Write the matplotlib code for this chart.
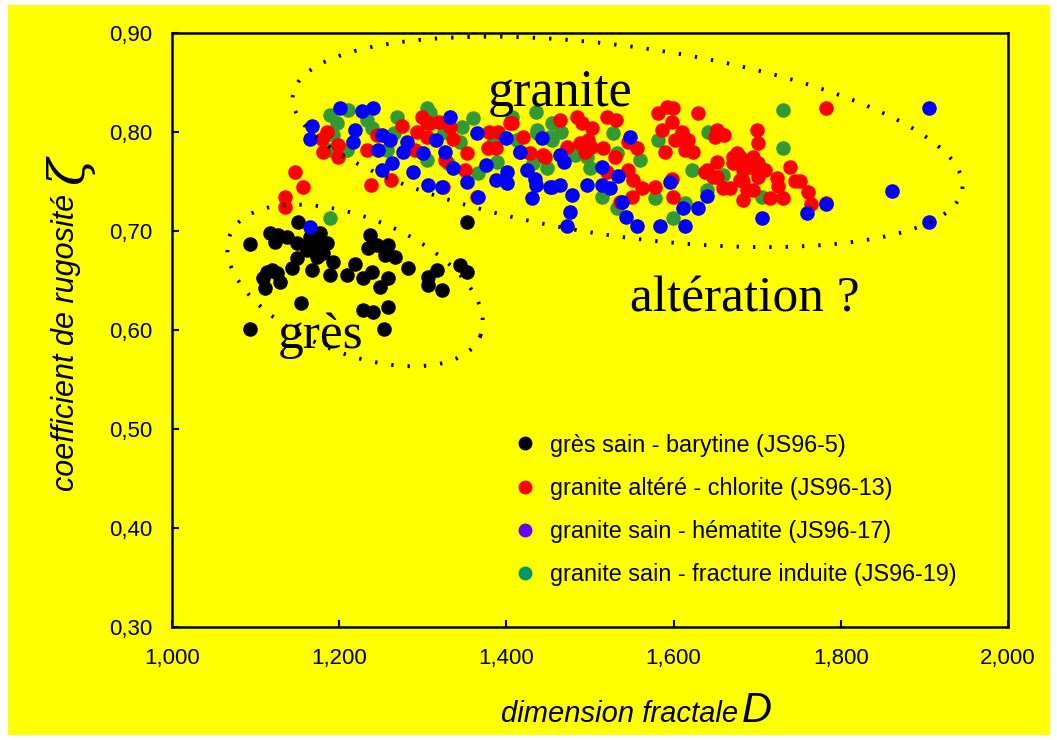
# nuage de points : coefficient de rugosité en fonction de la dimension fractale
import numpy as np
import matplotlib.pyplot as plt
from matplotlib.lines import Line2D
from matplotlib.patches import Rectangle

# --- données ---
gres_x = [1.093, 1.117, 1.127, 1.138, 1.123, 1.151, 1.150, 1.165, 1.177, 1.169, 1.185, 1.181, 1.193,
          1.150, 1.144, 1.167, 1.161, 1.173, 1.114, 1.126, 1.109, 1.129, 1.111, 1.120, 1.189, 1.209,
          1.219, 1.237, 1.234, 1.245, 1.258, 1.255, 1.267, 1.239, 1.229, 1.258, 1.249, 1.282, 1.306,
          1.317, 1.306, 1.323, 1.344, 1.353, 1.353, 1.154, 1.229, 1.240, 1.258, 1.093, 1.254, 1.169,
          1.160, 1.178]
gres_y = [0.687, 0.698, 0.696, 0.694, 0.689, 0.709, 0.688, 0.694, 0.698, 0.684, 0.688, 0.678, 0.669,
          0.673, 0.663, 0.661, 0.681, 0.674, 0.659, 0.658, 0.653, 0.648, 0.642, 0.661, 0.656, 0.656,
          0.667, 0.696, 0.683, 0.686, 0.686, 0.676, 0.674, 0.659, 0.653, 0.653, 0.643, 0.663, 0.654,
          0.661, 0.645, 0.640, 0.666, 0.659, 0.709, 0.627, 0.620, 0.618, 0.623, 0.601, 0.601, 0.691,
          0.685, 0.690]

altere_x = [1.185, 1.179, 1.199, 1.181, 1.199, 1.233, 1.245, 1.275, 1.299, 1.293, 1.305, 1.291, 1.147,
            1.157, 1.135, 1.135, 1.238, 1.262, 1.309, 1.319, 1.333, 1.305, 1.336, 1.327, 1.353, 1.350,
            1.378, 1.388, 1.379, 1.390, 1.404, 1.420, 1.416, 1.444, 1.365, 1.464, 1.472, 1.485, 1.490,
            1.502, 1.488, 1.501, 1.515, 1.520, 1.531, 1.520, 1.324, 1.407, 1.428, 1.446, 1.498, 1.494,
            1.530, 1.545, 1.556, 1.545, 1.551, 1.562, 1.550, 1.536, 1.578, 1.599, 1.598, 1.581, 1.592,
            1.599, 1.598, 1.629, 1.586, 1.610, 1.602, 1.617, 1.614, 1.623, 1.590, 1.652, 1.650, 1.640,
            1.652, 1.652, 1.659, 1.671, 1.680, 1.685, 1.680, 1.688, 1.700, 1.701, 1.660, 1.676, 1.695,
            1.701, 1.671, 1.683, 1.692, 1.709, 1.701, 1.683, 1.724, 1.725, 1.739, 1.745, 1.695, 1.715,
            1.731, 1.683, 1.667, 1.647, 1.638, 1.782, 1.761, 1.764, 1.782, 1.751]
altere_y = [0.800, 0.793, 0.787, 0.780, 0.775, 0.782, 0.797, 0.806, 0.815, 0.800, 0.809, 0.782, 0.760,
            0.744, 0.734, 0.724, 0.746, 0.752, 0.809, 0.810, 0.805, 0.795, 0.793, 0.772, 0.779, 0.762,
            0.784, 0.784, 0.800, 0.800, 0.809, 0.795, 0.780, 0.777, 0.734, 0.812, 0.785, 0.815, 0.809,
            0.804, 0.789, 0.785, 0.784, 0.815, 0.812, 0.760, 0.744, 0.809, 0.779, 0.775, 0.792, 0.780,
            0.775, 0.790, 0.784, 0.762, 0.752, 0.743, 0.734, 0.729, 0.744, 0.734, 0.753, 0.819, 0.825,
            0.824, 0.810, 0.819, 0.802, 0.800, 0.792, 0.792, 0.782, 0.780, 0.780, 0.802, 0.795, 0.762,
            0.770, 0.755, 0.743, 0.775, 0.775, 0.765, 0.752, 0.741, 0.802, 0.789, 0.797, 0.779, 0.775,
            0.769, 0.769, 0.762, 0.765, 0.762, 0.755, 0.751, 0.754, 0.745, 0.765, 0.751, 0.741, 0.733,
            0.733, 0.731, 0.743, 0.755, 0.760, 0.824, 0.739, 0.727, 0.728, 0.751]

hematite_x = [1.201, 1.227, 1.241, 1.167, 1.165, 1.219, 1.217, 1.251, 1.261, 1.281, 1.246, 1.276, 1.300,
              1.263, 1.251, 1.288, 1.306, 1.333, 1.316, 1.327, 1.365, 1.400, 1.416, 1.442, 1.464, 1.469,
              1.336, 1.376, 1.401, 1.425, 1.323, 1.353, 1.388, 1.401, 1.434, 1.436, 1.454, 1.464, 1.366,
              1.431, 1.478, 1.496, 1.514, 1.524, 1.514, 1.476, 1.548, 1.533, 1.538, 1.543, 1.556, 1.584,
              1.614, 1.611, 1.629, 1.640, 1.596, 1.472, 1.452, 1.706, 1.760, 1.906, 1.861, 1.906, 1.782,
              1.165]
hematite_y = [0.824, 0.821, 0.824, 0.806, 0.793, 0.802, 0.790, 0.797, 0.792, 0.790, 0.782, 0.780, 0.779,
              0.769, 0.762, 0.760, 0.746, 0.815, 0.792, 0.780, 0.799, 0.794, 0.780, 0.794, 0.777, 0.770,
              0.764, 0.767, 0.760, 0.762, 0.744, 0.749, 0.752, 0.748, 0.753, 0.746, 0.744, 0.746, 0.734,
              0.733, 0.736, 0.746, 0.746, 0.743, 0.765, 0.719, 0.795, 0.756, 0.729, 0.714, 0.705, 0.705,
              0.705, 0.723, 0.723, 0.735, 0.749, 0.705, 0.744, 0.713, 0.718, 0.824, 0.740, 0.709, 0.727,
              0.704]

fracture_x = [1.189, 1.197, 1.211, 1.233, 1.239, 1.269, 1.193, 1.209, 1.189, 1.257, 1.265, 1.305, 1.189,
              1.305, 1.309, 1.360, 1.347, 1.407, 1.435, 1.455, 1.437, 1.455, 1.330, 1.366, 1.389, 1.432,
              1.448, 1.480, 1.496, 1.500, 1.527, 1.532, 1.514, 1.532, 1.413, 1.384, 1.437, 1.452, 1.482,
              1.560, 1.578, 1.599, 1.614, 1.581, 1.622, 1.641, 1.640, 1.731, 1.731, 1.706, 1.659, 1.345,
              1.325, 1.465]
fracture_y = [0.817, 0.809, 0.822, 0.812, 0.804, 0.815, 0.797, 0.782, 0.782, 0.782, 0.799, 0.772, 0.713,
              0.824, 0.819, 0.814, 0.805, 0.815, 0.820, 0.809, 0.799, 0.792, 0.769, 0.759, 0.770, 0.769,
              0.764, 0.779, 0.775, 0.764, 0.799, 0.779, 0.734, 0.723, 0.792, 0.789, 0.802, 0.795, 0.777,
              0.772, 0.733, 0.713, 0.728, 0.792, 0.762, 0.800, 0.741, 0.822, 0.784, 0.734, 0.757, 0.790,
              0.800, 0.800]

labels = ['grès sain - barytine (JS96-5)',
          'granite altéré - chlorite (JS96-13)',
          'granite sain - hématite (JS96-17)',
          'granite sain - fracture induite (JS96-19)']

x_ticks = [1.0, 1.2, 1.4, 1.6, 1.8, 2.0]
x_ticklabels = ['1,000', '1,200', '1,400', '1,600', '1,800', '2,000']
y_ticks = [0.3, 0.4, 0.5, 0.6, 0.7, 0.8, 0.9]
y_ticklabels = ['0,30', '0,40', '0,50', '0,60', '0,70', '0,80', '0,90']

JAUNE = '#ffff00'
W, H = 1057, 740

plt.rcParams['font.family'] = ['Liberation Sans', 'DejaVu Sans']

fig = plt.figure(figsize=(W / 100, H / 100), dpi=100, facecolor='white')
fig.patches.append(Rectangle((8 / W, 5 / H), (1050 - 8) / W, (735 - 5) / H,
                             transform=fig.transFigure, facecolor=JAUNE, edgecolor='none', zorder=-10))

ax = fig.add_axes([172 / W, 1 - 627 / H, (1008 - 172) / W, (627 - 33) / H])
ax.set_facecolor(JAUNE)

s = 110
ax.scatter(gres_x, gres_y, s=s, color='black', linewidths=0, zorder=3)
ax.scatter(fracture_x, fracture_y, s=s, color='#339933', linewidths=0, zorder=3)
ax.scatter(altere_x, altere_y, s=s, color='#ff0000', linewidths=0, zorder=3)
ax.scatter(hematite_x, hematite_y, s=s, color='#0000ff', linewidths=0, zorder=3)

ax.set_xlim(1.0, 2.0)
ax.set_ylim(0.3, 0.9)
ax.set_xticks(x_ticks)
ax.set_xticklabels(x_ticklabels)
ax.set_yticks(y_ticks)
ax.set_yticklabels(y_ticklabels)
ax.tick_params(axis='both', direction='in', length=5, width=1.5, labelsize=16)
ax.tick_params(axis='x', pad=15)
ax.tick_params(axis='y', pad=14)
for sp in ax.spines.values():
    sp.set_linewidth(1.8)


# ellipses pointillées (centre en données, demi-axes en pixels)
def ellipse(cx, cy, a, b, angle):
    t = np.linspace(0, 2 * np.pi, 400)
    th = np.radians(angle)
    dx = a * np.cos(t) * np.cos(th) - b * np.sin(t) * np.sin(th)
    dy = a * np.cos(t) * np.sin(th) + b * np.sin(t) * np.cos(th)
    ax.plot(cx + dx / 836, cy + dy / 990, color='black', lw=2.8,
            linestyle=(0, (0.6, 3.6)), zorder=4)


ellipse(1.545, 0.790, 338, 95, -8)
ellipse(1.219, 0.645, 135, 68, -22)

# textes
fig.text(488 / W, 1 - 106 / H, 'granite', family='Liberation Serif', fontsize=37.5)
fig.text(630 / W, 1 - 312 / H, 'altération ?', family='Liberation Serif', fontsize=37)
fig.text(278 / W, 1 - 348 / H, 'grès', family='Liberation Serif', fontsize=37)

fig.text(738 / W, 1 - 722 / H, 'dimension fractale', style='italic', fontsize=21,
         ha='right', va='baseline')
fig.text(742 / W, 1 - 722 / H, 'D', style='italic', fontsize=30, ha='left', va='baseline')
fig.text(66 / W, 1 - 342 / H, 'coefficient de rugosité', style='italic', fontsize=22,
         rotation=90, ha='center', va='center')
fig.text(70 / W, 1 - 170 / H, 'ζ', family='DejaVu Serif', style='italic', fontsize=36,
         rotation=90, ha='center', va='center')

# légende
couleurs_leg = ['black', '#ff0000', '#6600ff', '#009966']
handles = [Line2D([], [], marker='o', linestyle='none', markersize=10,
                  markerfacecolor=c, markeredgewidth=0) for c in couleurs_leg]
ax.legend(handles, labels, loc='center left', bbox_to_anchor=(513 / W, 1 - 510 / H),
          bbox_transform=fig.transFigure, frameon=False, fontsize=16.8, handlelength=1,
          handletextpad=0.6, labelspacing=0.87, borderpad=0, borderaxespad=0)

plt.savefig('out.png', dpi=100, facecolor=fig.get_facecolor())
